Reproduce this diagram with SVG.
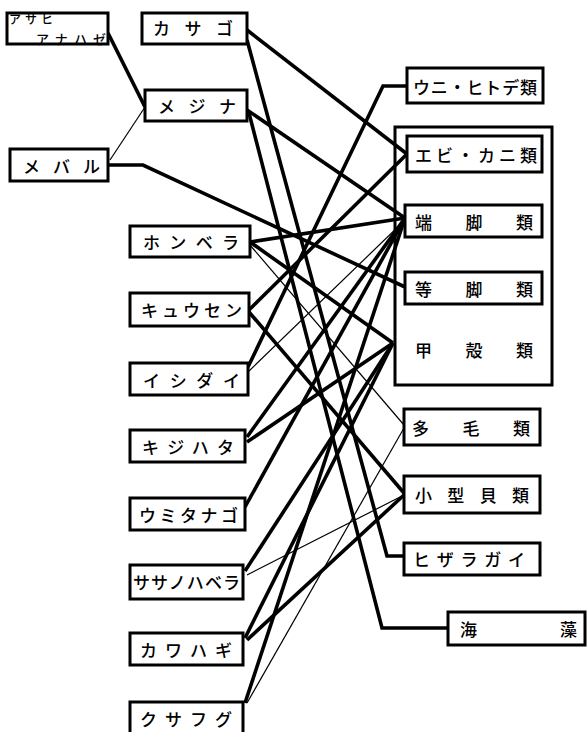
<svg xmlns="http://www.w3.org/2000/svg" width="587" height="732" viewBox="0 0 587 732">
<style>
.box{fill:#fff;stroke:#000;stroke-width:3}
.frame{fill:none;stroke:#000;stroke-width:3}
.t{font-family:"Noto Sans CJK JP","Noto Sans CJK SC",sans-serif;font-size:17px;font-weight:500;fill:#000}
.k{stroke:#000;stroke-width:3.6;fill:none;stroke-linejoin:miter}
.n{stroke:#000;stroke-width:1.2;fill:none}
</style>
<rect width="587" height="732" fill="#fff"/>
<g id="frame-koukaku">
<rect class="frame" x="395" y="127" width="157" height="258"/>
<text class="t" x="415" y="357" textLength="118" lengthAdjust="spacing">甲殻類</text>
</g>
<g id="connectors">
<path class="k" d="M108,33 L145,107"/>
<path class="n" d="M110,160 L145,107"/>
<path class="k" d="M247,30 L407,154"/>
<path class="k" d="M247,40 L387,556 L404,556"/>
<path class="k" d="M247,110 L405,218"/>
<path class="k" d="M249,113 L382,628 L448,628"/>
<path class="k" d="M108,165 L143,165 L405,287"/>
<path class="k" d="M250,242 L405,218"/>
<path class="k" d="M250,242 L393,343"/>
<path class="n" d="M250,245 L404,425"/>
<path class="k" d="M249,310 L407,154"/>
<path class="k" d="M249,312 L404,493"/>
<path class="k" d="M248,367 L383,86 L407,86"/>
<path class="n" d="M248,372 L405,220"/>
<path class="k" d="M247,437 L405,218"/>
<path class="k" d="M247,442 L393,343"/>
<path class="k" d="M245,507 L405,218"/>
<path class="k" d="M245,571 L393,343"/>
<path class="n" d="M247,575 L404,495"/>
<path class="k" d="M245,638 L393,343"/>
<path class="k" d="M247,640 L404,495"/>
<path class="k" d="M245,703 L405,218"/>
<path class="n" d="M247,703 L404,428"/>
</g>
<g id="asahianahaze">
<rect class="box" x="7" y="13" width="101" height="31"/>
<text class="t" x="9" y="24" style="font-size:12px" textLength="44" lengthAdjust="spacing">アサヒ</text>
<text class="t" x="36" y="43.5" style="font-size:13px" textLength="70" lengthAdjust="spacing">アナハゼ</text>
</g>
<g id="kasago"><rect class="box" x="142" y="13" width="105" height="31"/><text class="t" x="153" y="35" textLength="80" lengthAdjust="spacing">カサゴ</text></g>
<g id="mejina"><rect class="box" x="145" y="90" width="102" height="31"/><text class="t" x="158" y="113" textLength="78" lengthAdjust="spacing">メジナ</text></g>
<g id="mebaru"><rect class="box" x="10" y="149" width="98" height="32"/><text class="t" x="23" y="173" textLength="77" lengthAdjust="spacing">メバル</text></g>
<g id="honbera"><rect class="box" x="130" y="226" width="120" height="31"/><text class="t" x="143" y="249" textLength="96" lengthAdjust="spacing">ホンベラ</text></g>
<g id="kyuusen"><rect class="box" x="130" y="293" width="119" height="33"/><text class="t" x="141" y="317" textLength="101" lengthAdjust="spacing">キュウセン</text></g>
<g id="ishidai"><rect class="box" x="130" y="363" width="118" height="32"/><text class="t" x="143" y="387" textLength="97" lengthAdjust="spacing">イシダイ</text></g>
<g id="kijihata"><rect class="box" x="130" y="430" width="115" height="32"/><text class="t" x="142" y="454" textLength="92" lengthAdjust="spacing">キジハタ</text></g>
<g id="umitanago"><rect class="box" x="130" y="498" width="115" height="32"/><text class="t" x="139" y="522" textLength="99" lengthAdjust="spacing">ウミタナゴ</text></g>
<g id="sasanohabera"><rect class="box" x="130" y="565" width="113" height="34"/><text class="t" x="133" y="589" textLength="107" lengthAdjust="spacing">ササノハベラ</text></g>
<g id="kawahagi"><rect class="box" x="130" y="633" width="113" height="32"/><text class="t" x="140" y="657" textLength="92" lengthAdjust="spacing">カワハギ</text></g>
<g id="kusafugu"><rect class="box" x="130" y="702" width="113" height="32"/><text class="t" x="140" y="726" textLength="92" lengthAdjust="spacing">クサフグ</text></g>
<g id="uni-hitode"><rect class="box" x="407" y="68" width="136" height="35"/><text class="t" x="413" y="94" textLength="124" lengthAdjust="spacing">ウニ・ヒトデ類</text></g>
<g id="ebi-kani"><rect class="box" x="407" y="136" width="135" height="36"/><text class="t" x="415" y="162" textLength="122" lengthAdjust="spacing">エビ・カニ類</text></g>
<g id="tankyaku"><rect class="box" x="405" y="205" width="137" height="32"/><text class="t" x="415" y="229" textLength="118" lengthAdjust="spacing">端脚類</text></g>
<g id="toukyaku"><rect class="box" x="405" y="272" width="137" height="32"/><text class="t" x="415" y="296" textLength="118" lengthAdjust="spacing">等脚類</text></g>
<g id="tamou"><rect class="box" x="404" y="409" width="136" height="36"/><text class="t" x="412" y="435" textLength="118" lengthAdjust="spacing">多毛類</text></g>
<g id="kogata-kai"><rect class="box" x="404" y="476" width="136" height="37"/><text class="t" x="415" y="502" textLength="114" lengthAdjust="spacing">小型貝類</text></g>
<g id="hizaragai"><rect class="box" x="404" y="543" width="136" height="32"/><text class="t" x="413" y="566" textLength="112" lengthAdjust="spacing">ヒザラガイ</text></g>
<g id="kaisou"><rect class="box" x="448" y="612" width="137" height="33"/><text class="t" x="460" y="636" textLength="117" lengthAdjust="spacing">海藻</text></g>
</svg>
